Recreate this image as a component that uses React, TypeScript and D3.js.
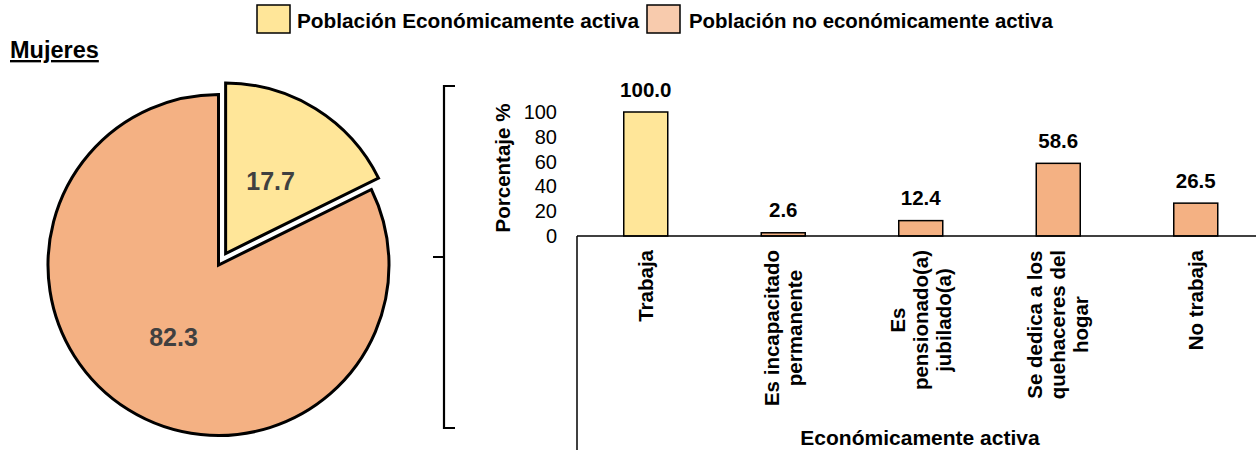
import React from "react";
import * as d3 from "d3";

const pieLabels = ["Población Económicamente activa", "Población no económicamente activa"];
const pieValues = [17.7, 82.3];

const categories = [
  "Trabaja",
  "Es incapacitado\npermanente",
  "Es\npensionado(a)\njubilado(a)",
  "Se dedica a los\nquehaceres del\nhogar",
  "No trabaja",
];
const barValues = [100.0, 2.6, 12.4, 58.6, 26.5];
const barGroup = [0, 1, 1, 1, 1];
const yTicks = [0, 20, 40, 60, 80, 100];

const YELLOW = "#FFE699";
const ORANGE = "#F4B183";
const LEGEND_ORANGE = "#F8CBAD";
const FONT = "'Liberation Sans', Arial, sans-serif";

function measure(text: string, font: string): number {
  if (typeof document === "undefined") return text.length * 10;
  const c = document.createElement("canvas");
  const ctx = c.getContext("2d");
  if (!ctx) return text.length * 10;
  ctx.font = font;
  return ctx.measureText(text).width;
}

export default function App() {
  const W = 1256;
  const H = 450;

  // Pie
  const cx = 218.5;
  const cy = 265;
  const r = 170.5;
  const pie = d3.pie<number>().sort(null).startAngle(0).endAngle(2 * Math.PI);
  const arcs = pie(pieValues);
  const arc = d3.arc<d3.PieArcDatum<number>>().innerRadius(0).outerRadius(r);
  const explode = 13.5;

  // Bars
  const x = d3
    .scaleBand<string>()
    .domain(categories)
    .range([577, 1264.5])
    .paddingInner(0.68)
    .paddingOuter(0.34);
  const y = d3.scaleLinear().domain([0, 100]).range([236, 112]);

  const catFontSize = 20.5;
  const catFont = `bold ${catFontSize}px ${FONT}`;
  const lineH = 23;
  const labelTop = 250;

  return (
    <svg
      width={W}
      height={H}
      style={{ position: "absolute", left: 0, top: 0, fontFamily: FONT }}
    >
      <rect x={0} y={0} width={W} height={H} fill="#fff" />

      {/* Legend */}
      <rect x={257} y={5} width={33} height={28} fill={YELLOW} stroke="#000" strokeWidth={1.5} />
      <text x={297} y={28} fontSize={20.8} fontWeight="bold" fill="#000">
        {pieLabels[0]}
      </text>
      <rect x={647} y={5} width={33} height={28} fill={LEGEND_ORANGE} stroke="#000" strokeWidth={1.5} />
      <text x={689} y={28} fontSize={20.4} fontWeight="bold" fill="#000">
        {pieLabels[1]}
      </text>

      {/* Title */}
      <text x={10} y={58} fontSize={23.5} fontWeight="bold" textDecoration="underline" fill="#000">
        Mujeres
      </text>

      {/* Pie */}
      {arcs.map((a, i) => {
        const mid = (a.startAngle + a.endAngle) / 2;
        const off = i === 0 ? explode : 0;
        const dx = Math.sin(mid) * off;
        const dy = -Math.cos(mid) * off;
        const [lx, ly] = arc.centroid(a);
        return (
          <g key={i} transform={`translate(${cx + dx},${cy + dy})`}>
            <path
              d={arc(a) || ""}
              fill={i === 0 ? YELLOW : ORANGE}
              stroke="#000"
              strokeWidth={3}
              strokeLinejoin="miter"
            />
            <text
              x={lx}
              y={ly}
              textAnchor="middle"
              dominantBaseline="central"
              fontSize={25}
              fontWeight="bold"
              fill="#404040"
            >
              {pieValues[i].toFixed(1)}
            </text>
          </g>
        );
      })}

      {/* Bracket */}
      <path d="M455,86 H444 V428 H455 M444,257 H433" fill="none" stroke="#000" strokeWidth={2.2} />

      {/* Y axis title */}
      <text
        transform={`translate(510,168) rotate(-90)`}
        textAnchor="middle"
        fontSize={20.5}
        fontWeight="bold"
        fill="#000"
      >
        Porcentaje %
      </text>

      {/* Y ticks */}
      {yTicks.map((t) => (
        <text
          key={t}
          x={557}
          y={y(t)}
          textAnchor="end"
          dominantBaseline="central"
          fontSize={20}
          fill="#000"
        >
          {t}
        </text>
      ))}

      {/* Bars */}
      {categories.map((c, i) => {
        const bx = x(c) as number;
        const bw = x.bandwidth();
        const top = y(barValues[i]);
        return (
          <g key={c}>
            <rect
              x={bx}
              y={top}
              width={bw}
              height={y(0) - top}
              fill={barGroup[i] === 0 ? YELLOW : ORANGE}
              stroke="#000"
              strokeWidth={1.5}
            />
            <text
              x={bx + bw / 2}
              y={top - 15.5}
              textAnchor="middle"
              fontSize={20.5}
              fontWeight="bold"
              fill="#000"
            >
              {barValues[i].toFixed(1)}
            </text>
          </g>
        );
      })}

      {/* Axis lines */}
      <line x1={577} x2={W} y1={236} y2={236} stroke="#000" strokeWidth={1.5} />
      <line x1={577} x2={577} y1={236} y2={H} stroke="#000" strokeWidth={1.5} />

      {/* Category labels */}
      {categories.map((c) => {
        const lines = c.split("\n");
        const maxW = d3.max(lines, (l) => measure(l, catFont)) || 0;
        const xc = (x(c) as number) + x.bandwidth() / 2;
        const yc = labelTop + maxW / 2;
        const n = lines.length;
        return (
          <text
            key={c}
            transform={`translate(${xc},${yc}) rotate(-90)`}
            textAnchor="middle"
            fontSize={catFontSize}
            fontWeight="bold"
            fill="#000"
          >
            {lines.map((l, j) => (
              <tspan key={j} x={0} y={(j - (n - 1) / 2) * lineH + catFontSize * 0.35}>
                {l}
              </tspan>
            ))}
          </text>
        );
      })}

      {/* X axis title */}
      <text x={920} y={445} textAnchor="middle" fontSize={21} fontWeight="bold" fill="#000">
        Económicamente activa
      </text>
    </svg>
  );
}
